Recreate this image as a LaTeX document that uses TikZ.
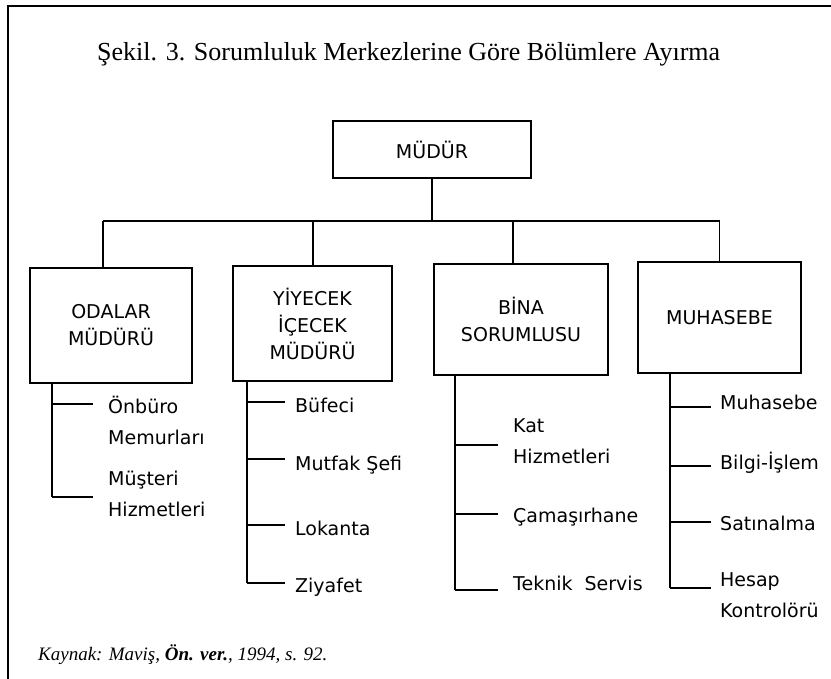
\documentclass[tikz,border=0pt]{standalone}
\usepackage{fontspec}
\setmainfont{Liberation Serif}
\newfontfamily\chartfont{DejaVu Sans}
\usetikzlibrary{positioning}

\tikzset{
  unit/.style={draw, line width=1.3pt, align=center, inner sep=0pt,
    font=\chartfont\fontsize{19}{27}\selectfont},
  job/.style={anchor=west, align=left, inner sep=0pt,
    font=\chartfont\fontsize{19}{31}\selectfont},
  wire/.style={line width=1.3pt},
}

\begin{document}
\begin{tikzpicture}[x=1pt, y=-1pt]
\useasboundingbox (0,0) rectangle (831,679);
% frame and captions
\draw[line width=1.6pt] (831,6) -- (8,6) -- (8,679);
\node[anchor=base west, inner sep=0pt, font=\fontsize{26}{30}\selectfont] (title) at (97,61)
  {Şekil. 3. Sorumluluk Merkezlerine Göre Bölümlere Ayırma};
\node[anchor=base west, inner sep=0pt, font=\fontsize{19}{22}\selectfont\itshape] (source) at (38,660)
  {Kaynak: Maviş, \textbf{Ön. ver.}, 1994, s. 92.};

% boxes
\node[unit, minimum width=198pt, minimum height=57pt] (mudur) at (432,149.5) {MÜDÜR};
\node[unit, minimum width=162pt, minimum height=115pt] (odalar) at (111,325.5) {ODALAR\\MÜDÜRÜ};
\node[unit, minimum width=159pt, minimum height=115pt] (yiyecek) at (312.5,323.5) {YİYECEK\\İÇECEK\\MÜDÜRÜ};
\node[unit, minimum width=174pt, minimum height=111pt] (bina) at (521,319.5) {BİNA\\SORUMLUSU};
\node[unit, minimum width=163pt, minimum height=111pt] (muhasebe) at (719.5,317.5) {MUHASEBE};

% bus between the boxes
\coordinate (bus) at (432,221);
\coordinate (drop1) at (103,221);
\coordinate (drop2) at (313,221);
\coordinate (drop3) at (513,221);
\coordinate (drop4) at (719.5,221);
\draw[wire] (mudur) -- (bus);
\draw[wire] (drop1) -- (drop4);
\draw[wire] (drop1) -- (drop1 |- odalar.north);
\draw[wire] (drop2) -- (drop2 |- yiyecek.north);
\draw[wire] (drop3) -- (drop3 |- bina.north);
\draw[wire] (drop4) -- (muhasebe.north);

% jobs under each box
\node[job] (onburo) at (108,420) {Önbüro\\Memurları};
\node[job] (musteri) at (108,494) {Müşteri\\Hizmetleri};

\node[job] (bufeci) at (295,405) {Büfeci};
\node[job] (mutfak) at (295,465) {Mutfak Şefi};
\node[job] (lokanta) at (295,528) {Lokanta};
\node[job] (ziyafet) at (295,587) {Ziyafet};

\node[job] (kat) at (513,441) {Kat\\Hizmetleri};
\node[job] (camasir) at (513,517) {Çamaşırhane};
\node[job] (teknik) at (513,583) {Teknik\ \ Servis};

\node[job] (muh) at (720,402) {Muhasebe};
\node[job] (bilgi) at (720,463) {Bilgi-İşlem};
\node[job] (satin) at (720,523) {Satınalma};
\node[job] (hesap) at (720,595.5) {Hesap\\Kontrolörü};

% spines and branches
\coordinate (spine1) at (52,497);
\draw[wire] (odalar.south -| spine1) -- (spine1);
\foreach \y [count=\i] in {404,497} {
  \coordinate (a\i) at (93,\y);
  \draw[wire] (spine1 |- a\i) -- (a\i);
}
\coordinate (spine2) at (247,583);
\draw[wire] (yiyecek.south -| spine2) -- (spine2);
\foreach \y [count=\i] in {402,459,525,583} {
  \coordinate (b\i) at (285,\y);
  \draw[wire] (spine2 |- b\i) -- (b\i);
}
\coordinate (spine3) at (455,590);
\draw[wire] (bina.south -| spine3) -- (spine3);
\foreach \y [count=\i] in {445,514,590} {
  \coordinate (c\i) at (498,\y);
  \draw[wire] (spine3 |- c\i) -- (c\i);
}
\coordinate (spine4) at (670,588);
\draw[wire] (muhasebe.south -| spine4) -- (spine4);
\foreach \y [count=\i] in {407,466,522,588} {
  \coordinate (d\i) at (711,\y);
  \draw[wire] (spine4 |- d\i) -- (d\i);
}
\end{tikzpicture}
\end{document}
